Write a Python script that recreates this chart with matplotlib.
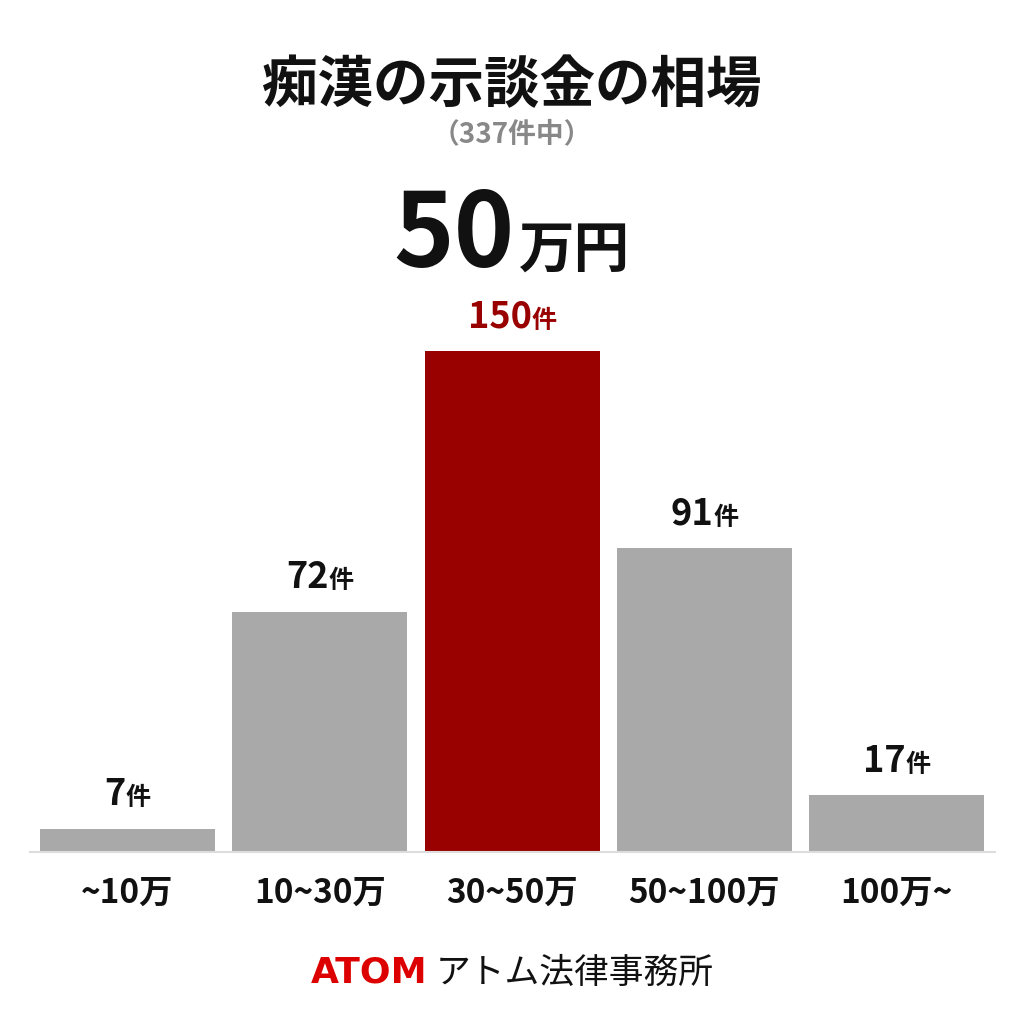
import matplotlib
matplotlib.use('Agg')
import matplotlib.pyplot as plt
from matplotlib.offsetbox import TextArea, HPacker, AnnotationBbox

# データ
categories = ['~10万', '10~30万', '30~50万', '50~100万', '100万~']
counts = [7, 72, 150, 91, 17]
highlight = 2  # 相場の区間
title = '痴漢の示談金の相場'
subtitle = '（337件中）'
median_num = '50'
median_unit = '万円'

jp = ['Noto Sans CJK JP', 'DejaVu Sans']
plt.rcParams['font.family'] = jp

RED = '#990000'
GRAY = '#a9a9a9'

fig = plt.figure(figsize=(10.24, 10.24), dpi=100)
fig.patch.set_facecolor('white')

# 棒グラフ
ax = fig.add_axes([30 / 1024, 1 - 852 / 1024, 965 / 1024, 552 / 1024])
colors = [RED if i == highlight else GRAY for i in range(len(counts))]
ax.bar(range(len(counts)), counts, width=0.91, color=colors)
ax.set_xlim(-0.507, 4.512)
ax.set_ylim(0, 150 * 552 / 501)
for s in ['top', 'right', 'left']:
    ax.spines[s].set_visible(False)
ax.spines['bottom'].set_color('#dddddd')
ax.spines['bottom'].set_linewidth(1.5)
ax.set_yticks([])
ax.set_xticks(range(len(categories)))
ax.set_xticklabels(categories, fontsize=24, fontweight='bold', color='#111111')
ax.tick_params(axis='x', length=0, pad=18)

# 件数ラベル
for i, v in enumerate(counts):
    c = RED if i == highlight else '#111111'
    box = HPacker(children=[
        TextArea(str(v), textprops=dict(fontsize=26, fontweight='bold', color=c, family=jp)),
        TextArea('件', textprops=dict(fontsize=18, fontweight='bold', color=c, family=jp)),
    ], align='baseline', pad=0, sep=0)
    ab = AnnotationBbox(box, (i, v), xybox=(0, 11), xycoords='data',
                        boxcoords='offset points', box_alignment=(0.5, 0), frameon=False)
    ax.add_artist(ab)

# タイトル
fig.text(0.5, 1 - 86 / 1024, title, ha='center', va='center', fontsize=40,
         fontweight='bold', color='#111111')
fig.text(0.5, 1 - 134 / 1024, subtitle, ha='center', va='center', fontsize=20,
         fontweight='bold', color='#888888')

# 中央値
big = HPacker(children=[
    TextArea(median_num, textprops=dict(fontsize=74, fontweight='bold', color='#111111', family=jp)),
    TextArea(median_unit, textprops=dict(fontsize=40, fontweight='bold', color='#111111', family=jp)),
], align='baseline', pad=0, sep=3)
fig.add_artist(AnnotationBbox(big, (0.5, 1 - 237 / 1024), xycoords='figure fraction',
                              box_alignment=(0.5, 0.5), frameon=False))

# フッター
foot = HPacker(children=[
    TextArea('ATOM', textprops=dict(fontsize=26, fontweight='bold', color='#dd0000',
                                    family=['DejaVu Sans'])),
    TextArea('アトム法律事務所', textprops=dict(fontsize=25, color='#111111', family=jp)),
], align='baseline', pad=0, sep=6)
fig.add_artist(AnnotationBbox(foot, (0.5, 1 - 973 / 1024), xycoords='figure fraction',
                              box_alignment=(0.5, 0.5), frameon=False))

plt.savefig('out.png', dpi=100, facecolor='white')
